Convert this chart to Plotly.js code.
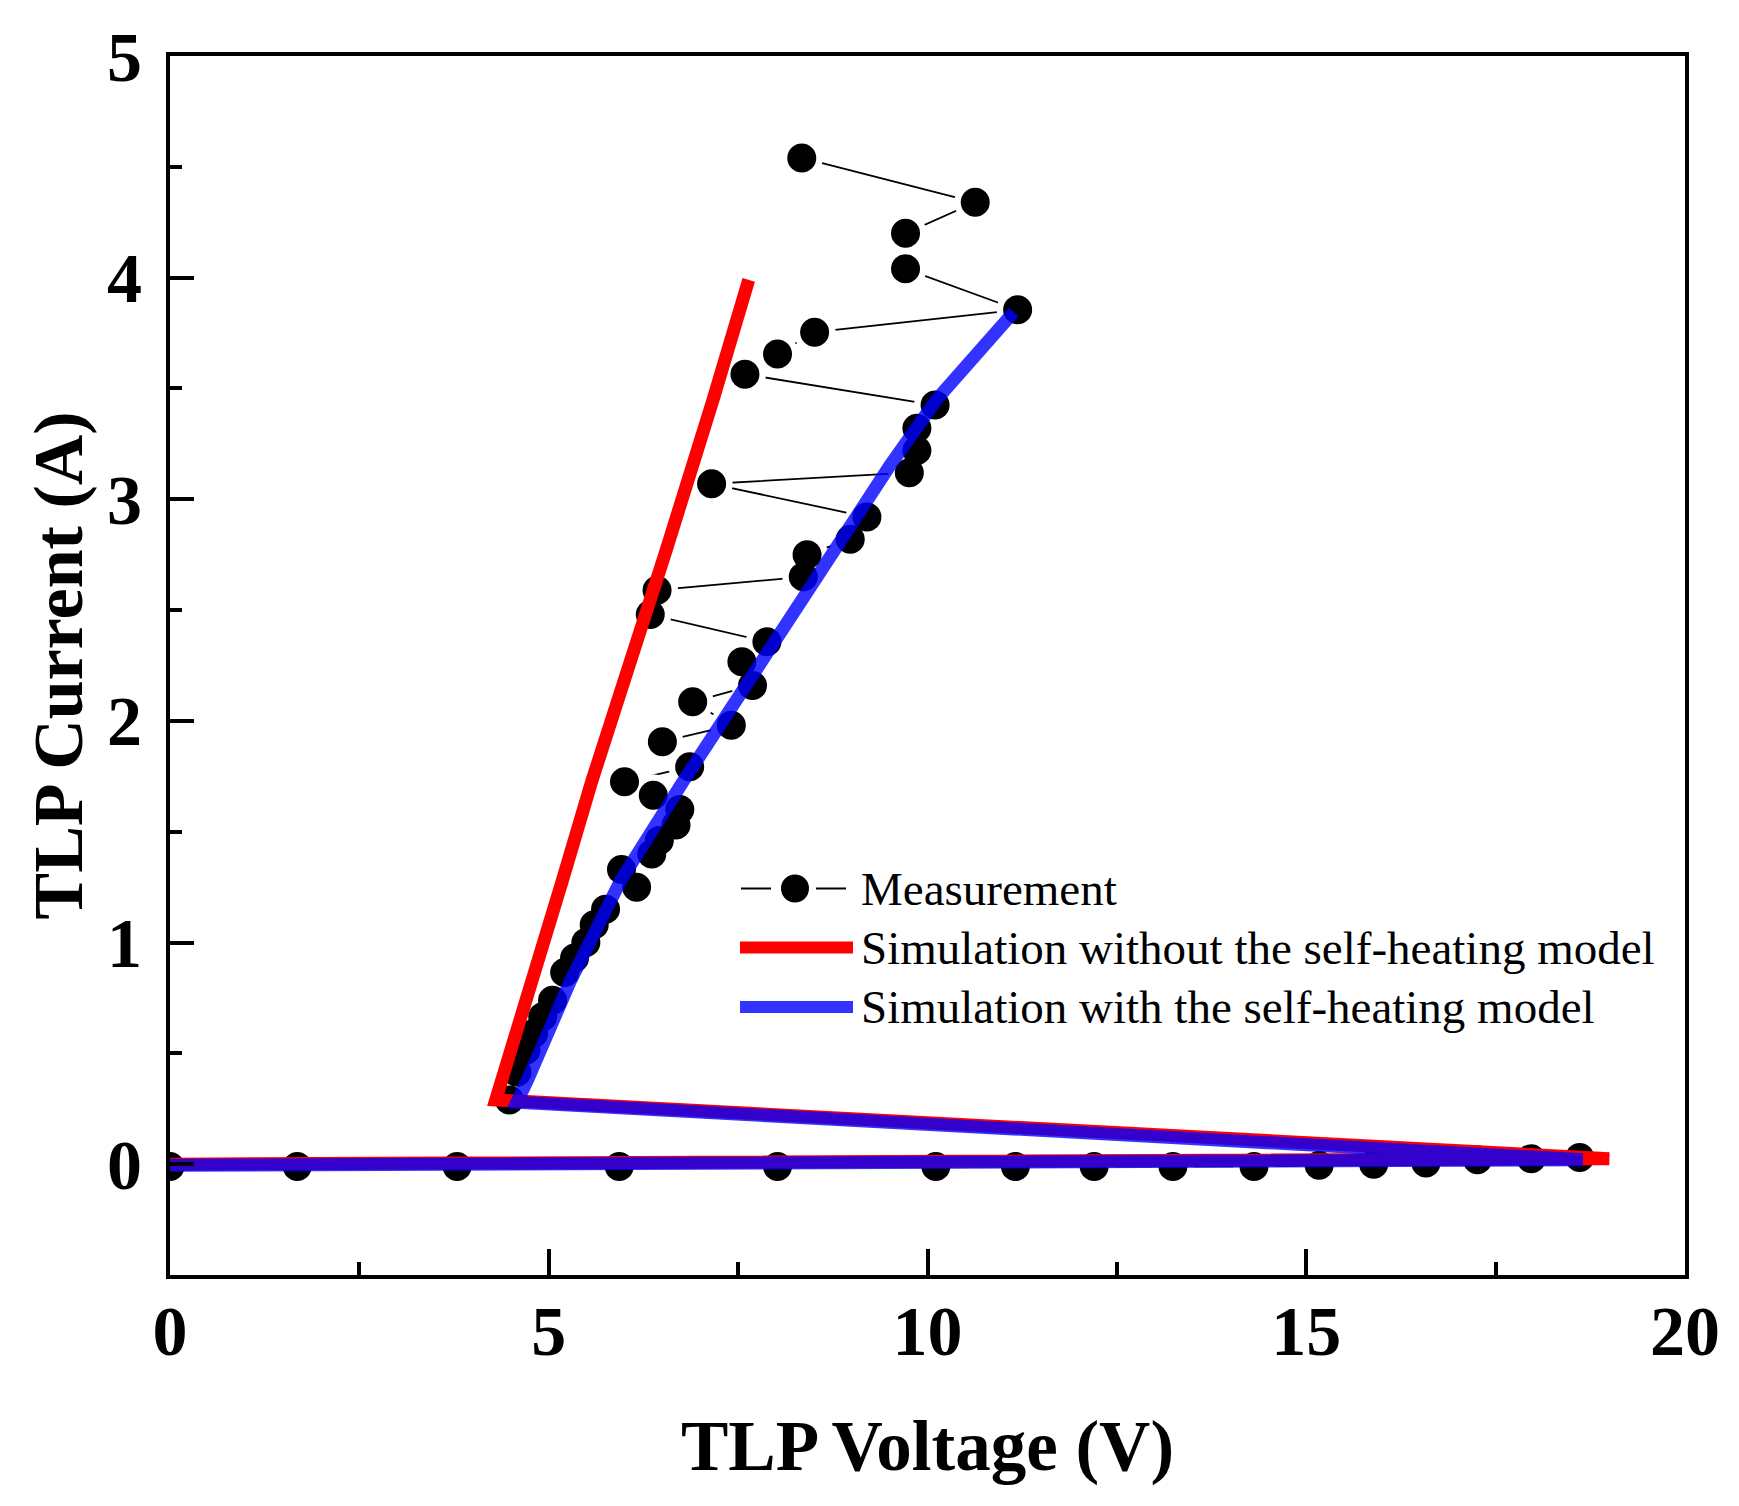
<!DOCTYPE html>
<html>
<head>
<meta charset="utf-8">
<script src="https://cdn.plot.ly/plotly-3.0.1.min.js"></script>
<style>
  html, body { margin: 0; padding: 0; background: #ffffff; }
  #chart { width: 1739px; height: 1506px; }
</style>
</head>
<body>
<div id="chart"></div>
<script>
// ---------------- data ----------------
// Measurement (TLP sweep order): off-state points, then the on-state branch after snapback
const measVoltage = [
  0.00, 1.68, 3.79, 5.93, 8.02, 10.11, 11.16, 12.20, 13.24, 14.31, 15.17, 15.89, 16.58, 17.26, 17.97, 18.61,
  4.48, 4.58, 4.70, 4.80, 4.92, 5.05, 5.21, 5.34, 5.49, 5.60, 5.75, 6.16, 5.96, 6.36, 6.46, 6.68, 6.73,
  6.38, 6.00, 6.86, 6.50, 7.41, 6.90, 7.69, 7.55, 7.88, 6.34, 6.43, 8.36, 8.41, 8.98, 9.20,
  7.15, 9.76, 9.86, 9.86, 10.10, 7.59, 8.02, 8.51, 11.19, 9.71, 9.71, 10.63, 8.34
];
const measCurrent = [
  -0.010, -0.010, -0.010, -0.010, -0.010, -0.010, -0.010, -0.010, -0.010, -0.010, -0.005, 0.000, 0.005, 0.020, 0.025, 0.030,
  0.29, 0.415, 0.515, 0.59, 0.665, 0.74, 0.865, 0.93, 1.00, 1.08, 1.15, 1.25, 1.33, 1.40, 1.46, 1.53, 1.60,
  1.665, 1.725, 1.793, 1.906, 1.98, 2.086, 2.16, 2.267, 2.357, 2.48, 2.59, 2.65, 2.75, 2.82, 2.92,
  3.07, 3.12, 3.22, 3.32, 3.425, 3.564, 3.656, 3.754, 3.855, 4.04, 4.20, 4.34, 4.54
];

// Simulation without the self-heating model
const simNoHeatVoltage = [0.00, 19.00, 4.30, 4.80, 5.18, 5.57, 6.07, 6.55, 7.17, 7.64];
const simNoHeatCurrent = [0.000, 0.025, 0.29, 0.83, 1.28, 1.73, 2.25, 2.77, 3.45, 3.99];

// Simulation with the self-heating model
const simHeatVoltage = [0.00, 18.65, 4.58, 4.72, 5.29, 5.95, 6.78, 7.80, 8.77, 9.50, 10.12, 11.14];
const simHeatCurrent = [-0.005, 0.020, 0.28, 0.38, 0.83, 1.28, 1.73, 2.27, 2.77, 3.15, 3.45, 3.845];

const seriesNames = [
  'Measurement',
  'Simulation without the self-heating model',
  'Simulation with the self-heating model'
];

const xTickVals = [0, 5, 10, 15, 20];
const xTickText = ['0', '5', '10', '15', '20'];
const yTickVals = [0, 1, 2, 3, 4, 5];
const yTickText = ['0', '1', '2', '3', '4', '5'];

// ---------------- layout helpers ----------------
const W = 1739, H = 1506;
const M = { l: 170, r: 54, t: 56, b: 231 };
const PW = W - M.l - M.r, PH = H - M.t - M.b;
const px = v => (v - M.l) / PW;          // pixel -> paper x
const py = v => (H - M.b - v) / PH;      // pixel -> paper y

const SERIF = 'Liberation Serif, Times New Roman, serif';
const RED = '#ff0000';
const BLUE = 'rgba(0,0,255,0.8)';

const traces = [
  // measurement connecting line, with white disks giving the "gap to symbol" look
  {
    x: measVoltage, y: measCurrent, type: 'scatter', mode: 'lines+markers',
    line: { color: '#000000', width: 1.8 },
    marker: { color: '#ffffff', size: 42, line: { width: 0 } },
    showlegend: false, hoverinfo: 'skip'
  },
  {
    x: measVoltage, y: measCurrent, type: 'scatter', mode: 'markers',
    name: seriesNames[0],
    marker: { color: '#000000', size: 29, line: { width: 0 } },
    showlegend: false
  },
  {
    x: simNoHeatVoltage, y: simNoHeatCurrent, type: 'scatter', mode: 'lines',
    name: seriesNames[1],
    line: { color: RED, width: 13 },
    showlegend: false
  },
  {
    x: simHeatVoltage, y: simHeatCurrent, type: 'scatter', mode: 'lines',
    name: seriesNames[2],
    line: { color: BLUE, width: 13 },
    showlegend: false
  }
];

// manual legend (Origin-style)
const rows = [888.5, 947.5, 1007];
const shapes = [
  { type: 'line', xref: 'paper', yref: 'paper', x0: px(741), x1: px(771), y0: py(rows[0]), y1: py(rows[0]),
    line: { color: '#000000', width: 2 } },
  { type: 'circle', xref: 'paper', yref: 'paper', x0: px(781), x1: px(809), y0: py(rows[0] + 14), y1: py(rows[0] - 14),
    fillcolor: '#000000', line: { width: 0 } },
  { type: 'line', xref: 'paper', yref: 'paper', x0: px(816), x1: px(846), y0: py(rows[0]), y1: py(rows[0]),
    line: { color: '#000000', width: 2 } },
  { type: 'line', xref: 'paper', yref: 'paper', x0: px(740), x1: px(853), y0: py(rows[1]), y1: py(rows[1]),
    line: { color: RED, width: 12 } },
  { type: 'line', xref: 'paper', yref: 'paper', x0: px(740), x1: px(853), y0: py(rows[2]), y1: py(rows[2]),
    line: { color: BLUE, width: 12 } }
];
const annotations = seriesNames.map((t, i) => ({
  text: t, xref: 'paper', yref: 'paper', x: px(859), y: py(rows[i]),
  xanchor: 'left', yanchor: 'middle', showarrow: false,
  font: { family: SERIF, size: 47, color: '#000000' }
}));

const axisCommon = {
  showgrid: false, zeroline: false,
  showline: true, linecolor: '#000000', linewidth: 4, mirror: true,
  ticks: 'inside', tickwidth: 4, tickcolor: '#000000',
  tickfont: { family: SERIF, size: 70, color: '#000000', weight: 'bold' },
  fixedrange: true
};

const layout = {
  width: W, height: H,
  margin: M,
  paper_bgcolor: '#ffffff', plot_bgcolor: '#ffffff',
  showlegend: false,
  xaxis: Object.assign({}, axisCommon, {
    range: [0, 20], tickmode: 'array', tickvals: xTickVals, ticktext: xTickText,
    ticklen: 26, ticklabelstandoff: -8,
    minor: { ticks: 'inside', dtick: 2.5, ticklen: 13, tickwidth: 4, tickcolor: '#000000' },
    title: { text: 'TLP Voltage (V)', standoff: 52,
      font: { family: SERIF, size: 71, color: '#000000', weight: 'bold' } }
  }),
  yaxis: Object.assign({}, axisCommon, {
    range: [-0.5, 5], tickmode: 'array', tickvals: yTickVals, ticktext: yTickText,
    ticklen: 24, ticklabelstandoff: 10,
    minor: { ticks: 'inside', dtick: 0.5, ticklen: 12, tickwidth: 4, tickcolor: '#000000' },
    title: { text: 'TLP Current (A)', standoff: 3,
      font: { family: SERIF, size: 70, color: '#000000', weight: 'bold' } }
  }),
  shapes: shapes,
  annotations: annotations
};

Plotly.newPlot('chart', traces, layout, { displayModeBar: false, staticPlot: true });
</script>
</body>
</html>
